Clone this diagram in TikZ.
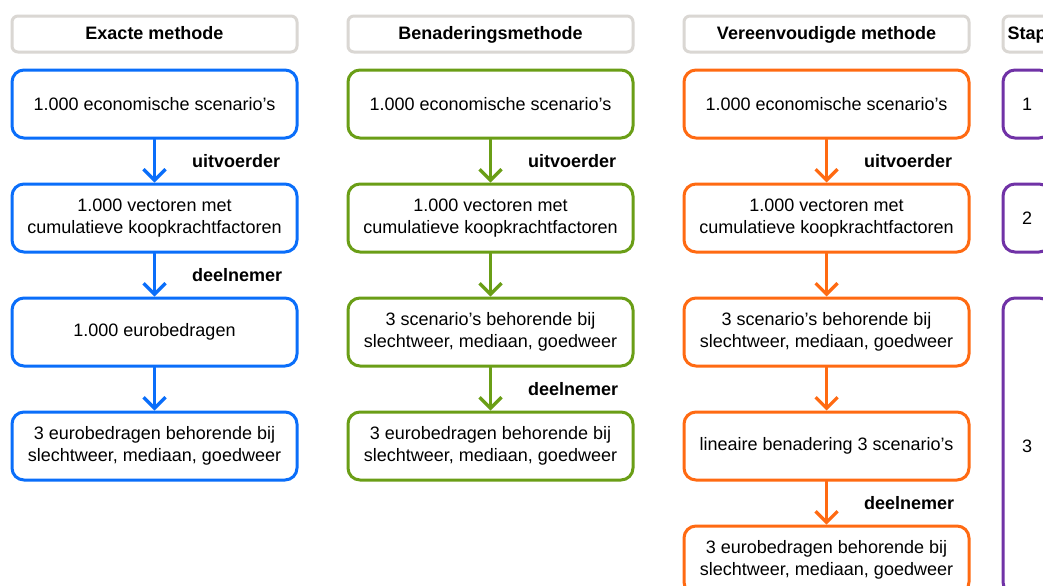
\documentclass[tikz,border=0pt]{standalone}
\usepackage{fontspec}
\setmainfont{Liberation Sans}
\usetikzlibrary{arrows.meta}

\definecolor{exblue}{HTML}{0A6EFA}
\definecolor{bengreen}{HTML}{6A9E16}
\definecolor{verorange}{HTML}{FF6A12}
\definecolor{stappurple}{HTML}{7032A6}
\definecolor{headgray}{HTML}{DAD7D3}

\begin{document}
\begin{tikzpicture}[x=0.5pt,y=-0.5pt,line width=1.5pt]
    \tikzstyle{head}=[draw=headgray,fill=white,rounded corners=3pt,minimum height=18pt,inner sep=0pt,text height=6.6pt,text depth=1.4pt,font={\fontsize{9}{11}\selectfont\bfseries}]
    \tikzstyle{box}=[draw,fill=white,rounded corners=6pt,minimum width=142.5pt,minimum height=34pt,inner sep=0pt,align=center,font={\fontsize{9}{11}\selectfont}]
    \tikzstyle{stepbox}=[box,draw=stappurple,minimum width=24pt]
    \tikzstyle{lbl}=[anchor=west,xshift=18pt,inner sep=0pt,text=black,font={\fontsize{9}{11}\selectfont\bfseries}]
    \tikzstyle{flow}=[-{Straight Barb[length=5.5pt,width=11pt,line width=1.6pt]},line cap=round,line join=round]

    \clip (0,0) rectangle (1043,585);
    \fill[white] (0,0) rectangle (1043,585);

    % kopjes
    \foreach \name/\x/\w/\txt in {E/154.5/142.5pt/Exacte methode, B/490.5/142.5pt/Benaderingsmethode,
            V/826.5/142.5pt/Vereenvoudigde methode, S/1027/24pt/Stap}
        \node[head,minimum width=\w] (H-\name) at (\x,34) {\txt};

    % exacte methode
    \foreach \num/\y/\txt in {1/104/{1.000 economische scenario’s},
            2/218/{1.000 vectoren met\\cumulatieve koopkrachtfactoren},
            3/332/{1.000 eurobedragen},
            4/446/{3 eurobedragen behorende bij\\slechtweer, mediaan, goedweer}}
        \node[box,draw=exblue] (E-\num) at (154.5,\y) {\txt};

    % benaderingsmethode
    \foreach \num/\y/\txt in {1/104/{1.000 economische scenario’s},
            2/218/{1.000 vectoren met\\cumulatieve koopkrachtfactoren},
            3/332/{3 scenario’s behorende bij\\slechtweer, mediaan, goedweer},
            4/446/{3 eurobedragen behorende bij\\slechtweer, mediaan, goedweer}}
        \node[box,draw=bengreen] (B-\num) at (490.5,\y) {\txt};

    % vereenvoudigde methode
    \foreach \num/\y/\txt in {1/104/{1.000 economische scenario’s},
            2/218/{1.000 vectoren met\\cumulatieve koopkrachtfactoren},
            3/332/{3 scenario’s behorende bij\\slechtweer, mediaan, goedweer},
            4/446/{lineaire benadering 3 scenario’s},
            5/560/{3 eurobedragen behorende bij\\slechtweer, mediaan, goedweer}}
        \node[box,draw=verorange] (V-\num) at (826.5,\y) {\txt};

    % stappen
    \node[stepbox] (S-1) at (1027,104) {1};
    \node[stepbox] (S-2) at (1027,218) {2};
    \node[stepbox,minimum height=148pt] (S-3) at (1027,446) {3};

    % pijlen
    \foreach \from/\to/\lab in {1/2/uitvoerder, 2/3/deelnemer, 3/4/{}}
        \draw[flow,exblue] (E-\from) -- node[midway,lbl] {\lab} (E-\to);
    \foreach \from/\to/\lab in {1/2/uitvoerder, 2/3/{}, 3/4/deelnemer}
        \draw[flow,bengreen] (B-\from) -- node[midway,lbl] {\lab} (B-\to);
    \foreach \from/\to/\lab in {1/2/uitvoerder, 2/3/{}, 3/4/{}, 4/5/deelnemer}
        \draw[flow,verorange] (V-\from) -- node[midway,lbl] {\lab} (V-\to);
\end{tikzpicture}
\end{document}
